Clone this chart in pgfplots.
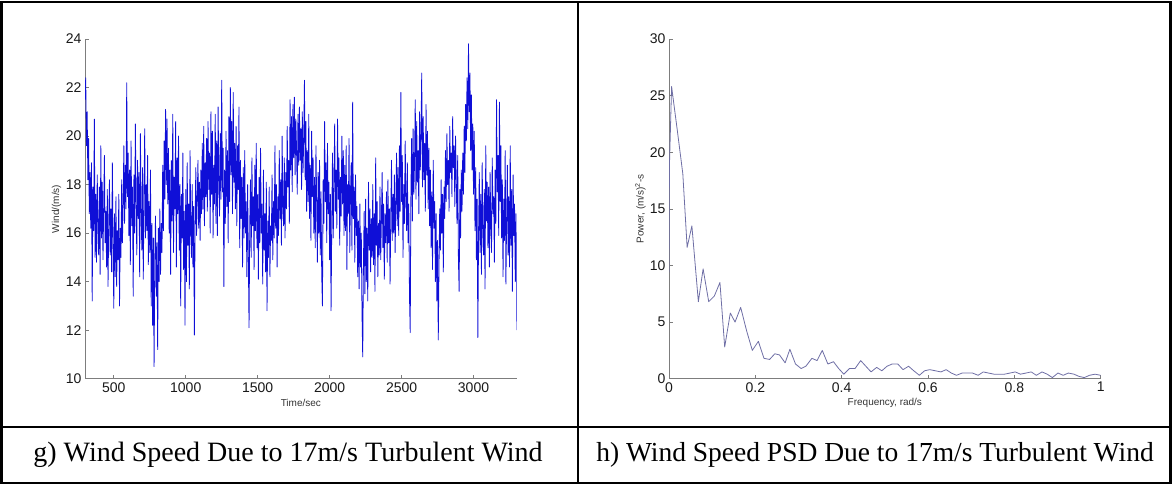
\documentclass[border=0pt]{standalone}
\usepackage{fontspec}
\setmainfont{Liberation Serif}
\newfontfamily\arial{Liberation Sans}
\usepackage{pgfplots}
\pgfplotsset{compat=1.18}
\definecolor{wblue}{RGB}{15,15,215}
\definecolor{psd}{RGB}{110,110,165}
\definecolor{axgray}{RGB}{125,125,125}
\pgfplotsset{mstyle/.style={
  scale only axis, width=431.7pt, height=339.7pt,
  axis x line*=bottom, axis y line*=left,
  tick align=inside, major tick length=4pt,
  axis line style={axgray, line width=0.7pt},
  every tick/.style={axgray, line width=0.6pt},
  tick label style={font=\arial\fontsize{14}{15}\selectfont, text=black!90},
  /pgf/number format/assume math mode=true,
  /pgf/number format/set thousands separator={},
  label style={font=\arial\fontsize{10}{11}\selectfont, text=black!80},
  xlabel style={at={(axis description cs:0.5,-0.072)}, anchor=center},
  ylabel style={at={(axis description cs:-0.066,0.5)}, anchor=center},
}}
\begin{document}
\begin{tikzpicture}
\useasboundingbox (0pt,0pt) rectangle (1173pt,-485pt);
% left plot
\begin{axis}[mstyle, at={(85pt,-378.7pt)}, anchor=south west,
  xmin=300, xmax=3300, ymin=10, ymax=24,
  xtick={500,1000,1500,2000,2500,3000}, ytick={10,12,...,24},
  xlabel={Time/sec}, ylabel={Wind/(m/s)}]
\addplot[wblue, line width=0.8pt, line join=round] coordinates {
(300,21.5)(305,22.4)(310,19.6)(315,21.0)(320,18.2)(325,19.9)(330,16.8)(335,18.5)(340,16.2)(345,18.9)
(350,13.2)(355,17.9)(360,16.1)(365,20.7)(370,15.0)(375,17.6)(380,14.8)(385,18.4)(390,16.3)(395,15.1)
(400,17.9)(405,14.3)(410,19.6)(415,15.8)(420,18.1)(425,14.9)(430,17.2)(435,19.2)(440,15.6)(445,16.9)
(450,14.6)(455,17.8)(460,13.8)(465,16.4)(470,18.2)(475,15.1)(480,17.0)(485,14.4)(490,18.9)(495,15.7)
(500,12.9)(505,16.8)(510,14.2)(515,17.5)(520,13.8)(525,16.1)(530,14.9)(535,17.6)(540,13.0)(545,16.2)
(550,15.0)(555,18.2)(560,15.6)(565,17.1)(570,19.6)(575,16.4)(580,18.8)(585,17.0)(590,22.2)(595,17.5)
(600,19.3)(605,15.9)(610,18.6)(615,14.7)(620,19.8)(625,16.3)(630,17.9)(635,13.4)(640,18.4)(645,16.0)
(650,20.5)(655,17.2)(660,15.1)(665,19.0)(670,16.6)(675,18.5)(680,14.2)(685,20.1)(690,16.9)(695,15.3)
(700,18.7)(705,14.1)(710,17.4)(715,20.3)(720,15.8)(725,18.0)(730,16.1)(735,19.2)(740,14.7)(745,17.3)
(750,15.2)(755,18.6)(760,13.0)(765,16.4)(770,12.2)(775,15.8)(780,10.5)(785,14.9)(790,16.7)(795,13.4)
(800,15.6)(805,11.2)(810,16.2)(815,14.0)(820,17.0)(825,14.3)(830,16.4)(835,15.2)(840,18.8)(845,16.1)
(850,19.8)(855,17.4)(860,21.1)(865,18.0)(870,20.7)(875,17.2)(880,19.5)(885,16.0)(890,18.6)(895,14.3)
(900,19.0)(905,16.5)(910,20.9)(915,15.2)(920,18.3)(925,17.0)(930,20.6)(935,14.6)(940,19.1)(945,16.8)
(950,20.0)(955,15.3)(960,18.0)(965,13.0)(970,17.6)(975,15.8)(980,19.3)(985,14.5)(990,16.9)(995,12.2)
(1000,17.8)(1005,14.0)(1010,18.9)(1015,15.5)(1020,17.2)(1025,13.7)(1030,19.4)(1035,16.1)(1040,15.0)(1045,18.0)
(1050,14.6)(1055,17.1)(1060,11.8)(1065,16.3)(1070,18.7)(1075,15.9)(1080,17.4)(1085,19.0)(1090,16.2)(1095,18.1)
(1100,15.7)(1105,18.6)(1110,16.8)(1115,19.7)(1120,17.0)(1125,20.4)(1130,16.3)(1135,18.9)(1140,17.5)(1145,19.9)
(1150,16.9)(1155,20.6)(1160,17.8)(1165,19.3)(1170,16.0)(1175,21.0)(1180,17.6)(1185,20.2)(1190,15.8)(1195,18.8)
(1200,17.2)(1205,20.9)(1210,16.4)(1215,19.8)(1220,15.9)(1225,21.2)(1230,18.3)(1235,16.7)(1240,20.1)(1245,17.4)
(1250,22.3)(1255,17.7)(1260,19.5)(1265,13.8)(1270,18.6)(1275,16.4)(1280,20.2)(1285,17.1)(1290,19.4)(1295,15.6)
(1300,20.8)(1305,17.3)(1310,22.0)(1315,18.4)(1320,20.6)(1325,16.8)(1330,21.8)(1335,18.1)(1340,19.7)(1345,17.0)
(1350,20.4)(1355,16.3)(1360,19.6)(1365,17.8)(1370,21.2)(1375,15.4)(1380,19.0)(1385,16.6)(1390,18.3)(1395,14.6)
(1400,18.7)(1405,15.8)(1410,19.4)(1415,16.0)(1420,17.3)(1425,14.2)(1430,18.0)(1435,15.1)(1440,12.1)(1445,16.4)
(1450,18.2)(1455,15.0)(1460,19.1)(1465,16.3)(1470,17.5)(1475,14.5)(1480,18.8)(1485,16.1)(1490,19.7)(1495,15.4)
(1500,17.6)(1505,14.1)(1510,18.3)(1515,15.6)(1520,19.5)(1525,16.0)(1530,17.2)(1535,13.9)(1540,18.6)(1545,15.3)
(1550,16.8)(1555,14.4)(1560,18.1)(1565,12.8)(1570,16.5)(1575,15.0)(1580,17.9)(1585,14.2)(1590,16.3)(1595,15.7)
(1600,18.4)(1605,14.9)(1610,17.3)(1615,15.8)(1620,19.6)(1625,16.2)(1630,18.0)(1635,14.6)(1640,17.5)(1645,15.9)
(1650,19.4)(1655,16.6)(1660,18.2)(1665,15.5)(1670,20.0)(1675,17.1)(1680,16.3)(1685,19.1)(1690,15.8)(1695,18.5)
(1700,17.0)(1705,20.4)(1710,17.9)(1715,19.0)(1720,16.4)(1725,21.5)(1730,18.6)(1735,20.8)(1740,17.7)(1745,21.3)
(1750,19.1)(1755,21.6)(1760,18.4)(1765,20.7)(1770,19.5)(1775,17.6)(1780,20.9)(1785,18.8)(1790,21.2)(1795,19.0)
(1800,20.3)(1805,17.8)(1810,21.0)(1815,18.5)(1820,19.9)(1825,22.3)(1830,18.2)(1835,20.6)(1840,16.9)(1845,19.4)
(1850,17.3)(1855,20.9)(1860,16.6)(1865,18.8)(1870,15.7)(1875,20.2)(1880,17.5)(1885,19.1)(1890,16.0)(1895,18.3)
(1900,15.4)(1905,19.6)(1910,17.2)(1915,14.8)(1920,18.5)(1925,16.0)(1930,19.0)(1935,15.1)(1940,17.7)(1945,14.3)
(1950,13.0)(1955,18.2)(1960,16.4)(1965,20.6)(1970,17.3)(1975,18.9)(1980,15.6)(1985,19.7)(1990,16.8)(1995,18.1)
(2000,14.9)(2005,17.6)(2010,12.8)(2015,16.5)(2020,19.3)(2025,15.8)(2030,18.0)(2035,20.5)(2040,16.9)(2045,18.6)
(2050,16.2)(2055,20.7)(2060,17.4)(2065,19.1)(2070,15.5)(2075,18.3)(2080,16.7)(2085,20.0)(2090,17.2)(2095,19.4)
(2100,15.9)(2105,18.8)(2110,16.1)(2115,19.6)(2120,14.5)(2125,18.0)(2130,16.8)(2135,19.9)(2140,15.2)(2145,17.7)
(2150,18.9)(2155,15.3)(2160,21.4)(2165,16.6)(2170,17.9)(2175,14.8)(2180,18.4)(2185,15.9)(2190,17.1)(2195,14.2)
(2200,16.5)(2205,13.7)(2210,17.2)(2215,14.6)(2220,16.0)(2225,12.7)(2230,10.9)(2235,14.8)(2240,16.9)(2245,13.5)
(2250,17.4)(2255,14.0)(2260,16.2)(2265,13.2)(2270,18.1)(2275,15.3)(2280,17.0)(2285,14.4)(2290,16.6)(2295,15.0)
(2300,18.0)(2305,14.7)(2310,16.8)(2315,13.6)(2320,19.1)(2325,15.5)(2330,17.3)(2335,14.2)(2340,16.4)(2345,15.1)
(2350,17.9)(2355,14.9)(2360,16.6)(2365,18.5)(2370,15.4)(2375,17.2)(2380,14.1)(2385,16.8)(2390,15.6)(2395,17.7)
(2400,14.8)(2405,18.2)(2410,15.6)(2415,17.0)(2420,13.9)(2425,16.7)(2430,19.0)(2435,15.7)(2440,17.6)(2445,16.0)
(2450,18.4)(2455,15.2)(2460,17.1)(2465,19.3)(2470,16.3)(2475,18.7)(2480,15.9)(2485,19.6)(2490,16.9)(2495,21.8)
(2500,17.3)(2505,19.2)(2510,15.0)(2515,18.0)(2520,16.4)(2525,19.8)(2530,17.5)(2535,16.1)(2540,18.9)(2545,15.6)
(2550,17.2)(2555,13.4)(2560,11.9)(2565,17.8)(2570,19.9)(2575,16.5)(2580,20.3)(2585,17.6)(2590,18.9)(2595,21.5)
(2600,17.4)(2605,20.6)(2610,18.1)(2615,19.4)(2620,16.8)(2625,21.0)(2630,18.6)(2635,20.1)(2640,22.6)(2645,17.9)
(2650,20.8)(2655,18.2)(2660,19.7)(2665,16.9)(2670,21.3)(2675,18.4)(2680,20.2)(2685,17.0)(2690,19.5)(2695,16.3)
(2700,18.6)(2705,15.4)(2710,17.7)(2715,14.5)(2720,19.0)(2725,16.2)(2730,17.3)(2735,14.0)(2740,16.8)(2745,13.2)
(2750,15.7)(2755,11.6)(2760,14.6)(2765,17.0)(2770,15.3)(2775,18.2)(2780,16.0)(2785,17.6)(2790,14.4)(2795,17.9)
(2800,16.6)(2805,19.4)(2810,17.3)(2815,20.1)(2820,18.0)(2825,19.0)(2830,16.9)(2835,20.4)(2840,18.5)(2845,19.3)
(2850,17.5)(2855,20.8)(2860,18.7)(2865,19.6)(2870,17.1)(2875,20.0)(2880,18.2)(2885,16.4)(2890,19.2)(2895,14.9)
(2900,13.6)(2905,17.8)(2910,15.8)(2915,18.6)(2920,16.9)(2925,19.3)(2930,17.6)(2935,20.4)(2940,18.5)(2945,21.3)
(2950,19.8)(2955,22.4)(2960,20.3)(2965,23.8)(2970,21.0)(2975,22.6)(2980,19.4)(2985,21.7)(2990,18.6)(2995,20.5)
(3000,17.6)(3005,20.2)(3010,16.1)(3015,18.7)(3020,14.9)(3025,17.4)(3030,11.7)(3035,16.0)(3040,18.5)(3045,15.2)
(3050,17.6)(3055,14.3)(3060,18.9)(3065,16.2)(3070,15.1)(3075,17.8)(3080,13.7)(3085,19.6)(3090,16.5)(3095,18.1)
(3100,15.4)(3105,17.9)(3110,14.6)(3115,18.5)(3120,16.3)(3125,15.2)(3130,19.1)(3135,16.8)(3140,17.5)(3145,14.8)
(3150,18.6)(3155,16.4)(3160,21.5)(3165,17.7)(3170,19.2)(3175,15.9)(3180,21.4)(3185,17.3)(3190,19.6)(3195,15.8)
(3200,18.2)(3205,14.2)(3210,17.4)(3215,15.7)(3220,19.4)(3225,13.9)(3230,16.6)(3235,18.8)(3240,15.1)(3245,17.5)
(3250,14.6)(3255,19.6)(3260,15.5)(3265,17.8)(3270,13.6)(3275,18.4)(3280,15.9)(3285,17.2)(3290,14.0)(3295,16.8)
(3300,12.0)
};
\end{axis}
% right plot
\begin{axis}[mstyle, at={(669pt,-378.7pt)}, anchor=south west,
  xmin=0, xmax=1, ymin=0, ymax=30,
  xtick={0,0.2,...,1}, ytick={0,5,...,30},
  xlabel={Frequency, rad/s}, ylabel={Power, (m/s)\textsuperscript{2}-s}]
\addplot[psd, line width=0.8pt, line join=round] coordinates {
(0,9.4)(0.001,18.8)(0.006,25.8)(0.019,22.0)(0.032,18.1)(0.042,11.6)(0.053,13.5)(0.068,6.8)(0.079,9.7)(0.092,6.8)
(0.105,7.3)(0.118,8.5)(0.129,2.8)(0.142,5.8)(0.153,5.0)(0.166,6.3)(0.180,4.2)(0.193,2.5)(0.207,3.3)(0.220,1.8)
(0.233,1.7)(0.245,2.2)(0.256,2.1)(0.269,1.4)(0.280,2.6)(0.293,1.3)(0.306,0.9)(0.317,1.1)(0.331,1.8)(0.343,1.6)
(0.355,2.5)(0.368,1.3)(0.381,1.5)(0.393,0.9)(0.405,0.4)(0.418,0.9)(0.431,0.9)(0.444,1.6)(0.456,1.1)(0.468,0.6)
(0.481,1.0)(0.493,0.7)(0.505,1.1)(0.517,1.3)(0.530,1.3)(0.542,0.8)(0.555,1.1)(0.567,0.7)(0.580,0.3)(0.592,0.7)
(0.604,0.8)(0.617,0.7)(0.630,0.6)(0.642,0.8)(0.654,0.5)(0.666,0.3)(0.679,0.5)(0.691,0.5)(0.703,0.5)(0.716,0.3)
(0.728,0.6)(0.740,0.5)(0.753,0.4)(0.765,0.4)(0.777,0.4)(0.790,0.5)(0.802,0.6)(0.814,0.4)(0.827,0.5)(0.839,0.6)
(0.851,0.3)(0.864,0.6)(0.876,0.4)(0.888,0.1)(0.901,0.5)(0.913,0.3)(0.925,0.5)(0.938,0.4)(0.950,0.2)(0.962,0.1)
(0.974,0.3)(0.987,0.4)(1.000,0.3)
};
\end{axis}
% table frame
\draw[line width=2.4pt] (1.5pt,-2pt) rectangle (1170.5pt,-483pt);
\draw[line width=2.2pt] (578pt,-2pt) -- (578pt,-483pt);
\draw[line width=2.2pt] (1.5pt,-427pt) -- (1170.5pt,-427pt);
\node[font=\fontsize{28}{30}\selectfont] at (288pt,-455pt) {g) Wind Speed Due to 17m/s Turbulent Wind};
\node[font=\fontsize{27.5}{30}\selectfont] at (875pt,-455pt) {h) Wind Speed PSD Due to 17m/s Turbulent Wind};
\end{tikzpicture}
\end{document}
